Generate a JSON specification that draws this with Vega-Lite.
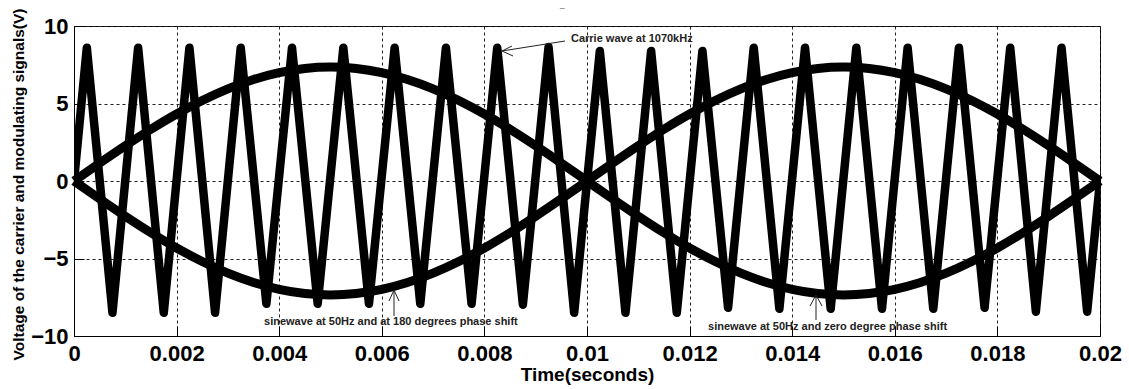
{
  "$schema": "https://vega.github.io/schema/vega-lite/v6.json",
  "width": 1026,
  "height": 310,
  "autosize": {"type": "none"},
  "padding": {"left": 74, "top": 26, "right": 29, "bottom": 53},
  "background": "white",
  "config": {
    "font": "Liberation Sans",
    "view": {"stroke": "black", "strokeWidth": 1},
    "axis": {
      "domainColor": "black",
      "tickColor": "black",
      "tickSize": -10,
      "gridColor": "#222",
      "gridDash": [3, 3],
      "gridOpacity": 1,
      "gridWidth": 1,
      "labelFont": "Liberation Sans",
      "labelFontSize": 22,
      "labelFontWeight": "bold",
      "labelColor": "black",
      "titleFont": "Liberation Sans",
      "titleFontWeight": "bold",
      "titleColor": "black"
    }
  },
  "datasets": {
    "carrier": [
      {"t": 0, "v": 0},
      {"t": 0.00025, "v": 8.6}, {"t": 0.00075, "v": -8.5},
      {"t": 0.00125, "v": 8.6}, {"t": 0.00175, "v": -8.5},
      {"t": 0.00225, "v": 8.6}, {"t": 0.00275, "v": -8.5},
      {"t": 0.00325, "v": 8.6}, {"t": 0.00375, "v": -7.92},
      {"t": 0.00425, "v": 8.6}, {"t": 0.00475, "v": -7.92},
      {"t": 0.00525, "v": 8.6}, {"t": 0.00575, "v": -7.92},
      {"t": 0.00625, "v": 8.6}, {"t": 0.00675, "v": -7.92},
      {"t": 0.00725, "v": 8.6}, {"t": 0.00775, "v": -7.92},
      {"t": 0.00825, "v": 8.6}, {"t": 0.00875, "v": -7.98},
      {"t": 0.00925, "v": 8.64}, {"t": 0.00975, "v": -8.5},
      {"t": 0.01025, "v": 8.39}, {"t": 0.01075, "v": -8.5},
      {"t": 0.01125, "v": 8.39}, {"t": 0.01175, "v": -8.5},
      {"t": 0.01225, "v": 8.39}, {"t": 0.01275, "v": -8.18},
      {"t": 0.01325, "v": 8.6}, {"t": 0.01375, "v": -8.24},
      {"t": 0.01425, "v": 8.6}, {"t": 0.01475, "v": -8.24},
      {"t": 0.01525, "v": 8.6}, {"t": 0.01575, "v": -8.24},
      {"t": 0.01625, "v": 8.6}, {"t": 0.01675, "v": -8.24},
      {"t": 0.01725, "v": 8.6}, {"t": 0.01775, "v": -8.18},
      {"t": 0.01825, "v": 8.6}, {"t": 0.01875, "v": -8.43},
      {"t": 0.01925, "v": 8.6}, {"t": 0.01975, "v": -8.43},
      {"t": 0.02, "v": 0}
    ],
    "sine": [
      {"t": 0, "s0": 0, "s180": 0},
      {"t": 0.0005, "s0": 1.15, "s180": -1.15},
      {"t": 0.001, "s0": 2.271, "s180": -2.271},
      {"t": 0.0015, "s0": 3.337, "s180": -3.337},
      {"t": 0.002, "s0": 4.32, "s180": -4.32},
      {"t": 0.0025, "s0": 5.197, "s180": -5.197},
      {"t": 0.003, "s0": 5.946, "s180": -5.946},
      {"t": 0.0035, "s0": 6.549, "s180": -6.549},
      {"t": 0.004, "s0": 6.99, "s180": -6.99},
      {"t": 0.0045, "s0": 7.26, "s180": -7.26},
      {"t": 0.005, "s0": 7.35, "s180": -7.35},
      {"t": 0.0055, "s0": 7.26, "s180": -7.26},
      {"t": 0.006, "s0": 6.99, "s180": -6.99},
      {"t": 0.0065, "s0": 6.549, "s180": -6.549},
      {"t": 0.007, "s0": 5.946, "s180": -5.946},
      {"t": 0.0075, "s0": 5.197, "s180": -5.197},
      {"t": 0.008, "s0": 4.32, "s180": -4.32},
      {"t": 0.0085, "s0": 3.337, "s180": -3.337},
      {"t": 0.009, "s0": 2.271, "s180": -2.271},
      {"t": 0.0095, "s0": 1.15, "s180": -1.15},
      {"t": 0.01, "s0": 0, "s180": 0},
      {"t": 0.0105, "s0": -1.15, "s180": 1.15},
      {"t": 0.011, "s0": -2.271, "s180": 2.271},
      {"t": 0.0115, "s0": -3.337, "s180": 3.337},
      {"t": 0.012, "s0": -4.32, "s180": 4.32},
      {"t": 0.0125, "s0": -5.197, "s180": 5.197},
      {"t": 0.013, "s0": -5.946, "s180": 5.946},
      {"t": 0.0135, "s0": -6.549, "s180": 6.549},
      {"t": 0.014, "s0": -6.99, "s180": 6.99},
      {"t": 0.0145, "s0": -7.26, "s180": 7.26},
      {"t": 0.015, "s0": -7.35, "s180": 7.35},
      {"t": 0.0155, "s0": -7.26, "s180": 7.26},
      {"t": 0.016, "s0": -6.99, "s180": 6.99},
      {"t": 0.0165, "s0": -6.549, "s180": 6.549},
      {"t": 0.017, "s0": -5.946, "s180": 5.946},
      {"t": 0.0175, "s0": -5.197, "s180": 5.197},
      {"t": 0.018, "s0": -4.32, "s180": 4.32},
      {"t": 0.0185, "s0": -3.337, "s180": 3.337},
      {"t": 0.019, "s0": -2.271, "s180": 2.271},
      {"t": 0.0195, "s0": -1.15, "s180": 1.15},
      {"t": 0.02, "s0": 0, "s180": 0}
    ],
    "arrows": [
      {"x": 0.009571, "y": 9.032, "x2": 0.008343, "y2": 8.387},
      {"x": 0.008343, "y": 8.387, "x2": 0.008538, "y2": 8.71},
      {"x": 0.008343, "y": 8.387, "x2": 0.008558, "y2": 8.065},
      {"x": 0.006238, "y": -8.71, "x2": 0.006238, "y2": -7.032},
      {"x": 0.006238, "y": -7.032, "x2": 0.00614, "y2": -7.742},
      {"x": 0.006238, "y": -7.032, "x2": 0.006335, "y2": -7.742},
      {"x": 0.014464, "y": -8.968, "x2": 0.014464, "y2": -7.355},
      {"x": 0.014464, "y": -7.355, "x2": 0.014347, "y2": -8.065},
      {"x": 0.014464, "y": -7.355, "x2": 0.014581, "y2": -8.065}
    ],
    "notes": [
      {"label": "Carrie wave at 1070kHz", "x": 0.009688, "y": 9.16},
      {"label": "sinewave at 50Hz and at 180 degrees phase shift", "x": 0.003704, "y": -9.097},
      {"label": "sinewave at 50Hz and zero degree phase shift", "x": 0.012359, "y": -9.42}
    ],
    "stray": [
      {"label": "_", "x": 0.009474, "y": 11.6}
    ]
  },
  "layer": [
    {
      "data": {"name": "carrier"},
      "mark": {"type": "line", "color": "black", "strokeWidth": 8.5, "strokeJoin": "round", "clip": true},
      "encoding": {
        "x": {
          "field": "t", "type": "quantitative",
          "scale": {"domain": [0, 0.02], "nice": false, "zero": false},
          "axis": {
            "values": [0, 0.002, 0.004, 0.006, 0.008, 0.01, 0.012, 0.014, 0.016, 0.018, 0.02],
            "format": "~g",
            "grid": true,
            "labelPadding": 17,
            "labelFlush": false,
            "labelOverlap": false,
            "title": "Time(seconds)",
            "titleFontSize": 19,
            "titleY": 29
          }
        },
        "y": {
          "field": "v", "type": "quantitative",
          "scale": {"domain": [-10, 10], "nice": false, "zero": false},
          "axis": {
            "values": [-10, -5, 0, 5, 10],
            "grid": true,
            "labelPadding": 16,
            "labelFlush": false,
            "labelOverlap": false,
            "title": "Voltage of the carrier and modulating signals(V)",
            "titleFontSize": 15.5,
            "titleX": -48,
            "titleY": 158
          }
        }
      }
    },
    {
      "data": {"name": "sine"},
      "transform": [{"fold": ["s0", "s180"], "as": ["wave", "val"]}],
      "mark": {"type": "line", "color": "black", "strokeWidth": 9, "interpolate": "monotone", "strokeJoin": "round"},
      "encoding": {
        "x": {"field": "t", "type": "quantitative"},
        "y": {"field": "val", "type": "quantitative"},
        "detail": {"field": "wave"}
      }
    },
    {
      "data": {"name": "arrows"},
      "mark": {"type": "rule", "color": "#222", "strokeWidth": 1},
      "encoding": {
        "x": {"field": "x", "type": "quantitative"},
        "y": {"field": "y", "type": "quantitative"},
        "x2": {"field": "x2"},
        "y2": {"field": "y2"}
      }
    },
    {
      "data": {"name": "notes"},
      "mark": {"type": "text", "align": "left", "baseline": "middle", "fontSize": 11, "fontWeight": "bold", "color": "#222", "font": "Liberation Sans"},
      "encoding": {
        "x": {"field": "x", "type": "quantitative"},
        "y": {"field": "y", "type": "quantitative"},
        "text": {"field": "label"}
      }
    },
    {
      "data": {"name": "stray"},
      "mark": {"type": "text", "align": "left", "baseline": "top", "fontSize": 8, "color": "#222", "font": "Liberation Sans"},
      "encoding": {
        "x": {"field": "x", "type": "quantitative"},
        "y": {"field": "y", "type": "quantitative"},
        "text": {"field": "label"}
      }
    }
  ]
}
